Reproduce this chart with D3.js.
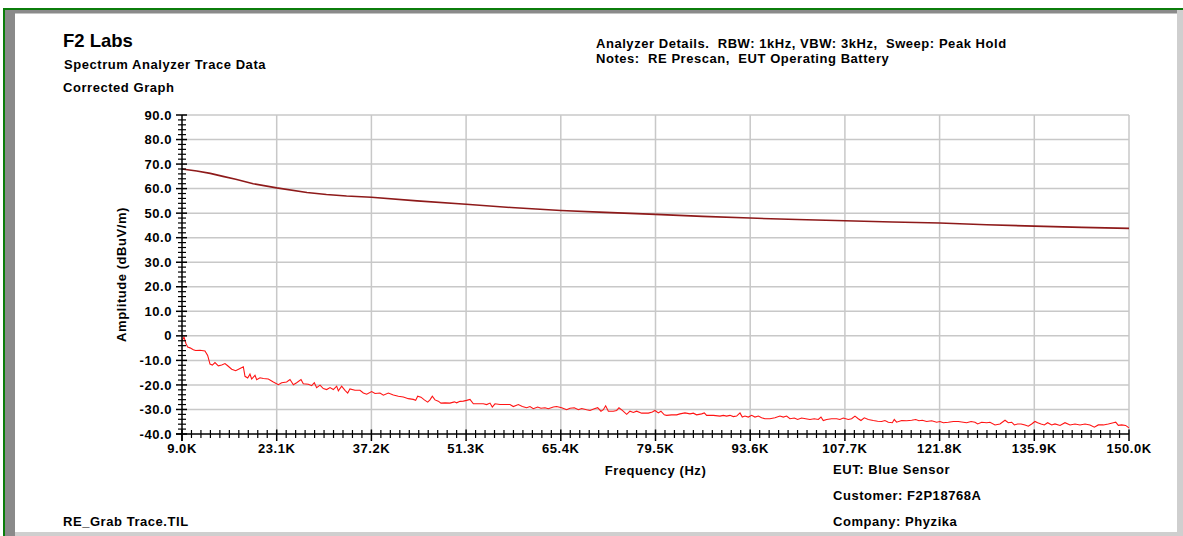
<!DOCTYPE html>
<html>
<head>
<meta charset="utf-8">
<script src="https://cdn.jsdelivr.net/npm/d3@7"></script>
<style>
  html, body { margin: 0; padding: 0; background: #ffffff; }
  svg { display: block; }
  text { font-family: "Liberation Sans", Arial, sans-serif; font-weight: bold; fill: #000; white-space: pre; }
</style>
</head>
<body>
<svg id="chart" width="1183" height="536"></svg>
<script>
// Limit line (dBuV/m) versus frequency (kHz)
const limitFreqKHz = [9.0, 11.2, 13.2, 15.1, 17.0, 19.6, 23.1, 27.6, 30.5, 33.5, 37.2, 44.0, 51.3, 58.0, 65.4, 72.0, 79.5, 86.5, 93.6, 100.6, 107.7, 114.8, 121.8, 128.8, 135.9, 143.0, 150.0];
const limitAmplitude = [68.0, 67.2, 66.2, 65.0, 63.8, 62.0, 60.3, 58.4, 57.6, 57.0, 56.5, 55.0, 53.6, 52.3, 51.1, 50.3, 49.5, 48.7, 48.0, 47.4, 46.9, 46.4, 46.0, 45.3, 44.7, 44.2, 43.8];

// Measured peak-hold trace (corrected), frequency in kHz
const traceFreqKHz = [
  9.00, 9.30, 9.60, 9.85, 10.19, 10.69, 11.03, 11.68, 12.42, 12.82, 13.17, 13.52, 13.91, 14.41, 14.91, 15.40, 15.80, 16.40, 16.99, 17.64,
  18.13, 18.38, 18.78, 19.12, 19.37, 19.87, 20.12, 20.61, 21.11, 21.85, 22.60, 23.34, 23.84, 24.58, 25.08, 25.58, 26.07, 26.72, 27.06, 27.81,
  28.31, 28.70, 29.05, 29.55, 30.04, 30.54, 31.04, 31.53, 32.03, 32.28, 32.77, 33.27, 33.67, 34.01, 34.76, 35.50, 36.00, 36.50, 37.24, 37.74,
  38.48, 38.98, 39.72, 40.47, 41.21, 41.96, 42.70, 43.44, 43.79, 44.09, 44.58, 45.08, 45.58, 45.92, 46.27, 46.67, 47.16, 47.56, 48.16, 48.90,
  49.55, 49.89, 50.39, 50.89, 51.38, 51.88, 52.38, 53.12, 53.86, 54.36, 54.86, 55.20, 55.60, 56.35, 57.09, 57.83, 58.33, 59.08, 59.67, 60.32,
  60.81, 61.31, 61.95, 62.45, 63.05, 63.54, 64.29, 64.78, 65.53, 66.27, 66.77, 67.41, 68.01, 68.51, 69.25, 69.75, 70.39, 70.89, 71.38, 71.73,
  72.08, 72.48, 73.22, 73.72, 74.06, 74.56, 75.21, 75.70, 76.20, 76.69, 77.44, 78.43, 79.03, 79.42, 79.92, 80.31, 80.81, 81.16, 81.90, 82.65,
  83.14, 83.89, 84.63, 85.13, 85.62, 86.37, 86.77, 87.11, 88.11, 89.10, 89.59, 90.09, 90.59, 91.08, 91.58, 92.08, 92.42, 92.82, 93.32, 93.81,
  94.31, 94.81, 95.30, 95.80, 96.54, 97.29, 98.03, 98.53, 99.02, 99.52, 100.17, 100.66, 101.26, 101.85, 102.50, 103.14, 103.74, 104.14, 104.48, 104.98,
  105.72, 106.47, 106.96, 107.46, 108.21, 108.70, 109.20, 109.69, 110.09, 110.59, 111.18, 111.93, 112.57, 113.17, 113.66, 114.16, 114.76, 115.05, 115.40, 116.15,
  116.90, 117.64, 118.24, 118.73, 119.23, 119.87, 120.62, 121.36, 121.86, 122.36, 123.10, 123.85, 124.59, 125.33, 125.83, 126.48, 127.07, 127.47, 128.06, 128.81,
  129.30, 130.05, 130.79, 131.54, 132.03, 132.53, 132.93, 133.42, 133.92, 134.52, 135.01, 135.51, 136.00, 136.40, 136.90, 137.39, 137.89, 138.49, 138.98, 139.73,
  140.47, 141.22, 141.96, 142.70, 143.45, 144.19, 144.84, 145.43, 146.18, 146.92, 147.67, 148.02, 148.41, 148.91, 149.50, 150.00
];
const traceAmplitude = [
  -2.0, -0.5, -3.2, -4.6, -4.9, -5.7, -6.0, -5.9, -6.2, -8.0, -11.5, -11.9, -10.9, -12.2, -11.9, -11.3, -12.2, -13.6, -14.2, -13.3,
  -12.6, -16.5, -17.2, -15.6, -17.6, -16.1, -17.9, -17.1, -17.4, -17.6, -18.8, -19.9, -19.1, -18.8, -17.8, -19.9, -19.1, -17.8, -19.5, -19.7,
  -20.3, -19.1, -21.1, -20.1, -21.5, -21.9, -21.1, -21.9, -20.5, -22.4, -20.5, -22.2, -23.3, -21.6, -22.2, -22.2, -23.3, -23.8, -22.7, -23.5,
  -23.3, -24.2, -23.3, -24.1, -24.6, -24.9, -25.6, -25.9, -26.3, -24.6, -25.0, -26.1, -27.0, -26.1, -24.6, -26.1, -26.6, -27.4, -27.3, -27.4,
  -26.9, -27.3, -26.7, -26.6, -26.3, -25.9, -27.7, -27.7, -27.7, -28.0, -27.4, -29.0, -27.7, -28.0, -28.0, -28.0, -28.8, -28.0, -28.8, -29.3,
  -28.8, -29.7, -29.0, -29.5, -29.3, -29.7, -29.0, -28.8, -29.3, -30.1, -29.5, -29.3, -30.1, -29.6, -30.1, -30.4, -29.7, -29.3, -30.7, -30.1,
  -28.5, -30.7, -30.7, -30.4, -29.3, -30.4, -32.0, -30.7, -31.2, -30.7, -31.5, -31.5, -31.0, -30.4, -31.4, -30.7, -32.2, -32.4, -32.2, -32.2,
  -31.8, -31.4, -31.8, -31.5, -32.2, -31.8, -31.4, -32.4, -32.4, -32.7, -32.4, -32.7, -32.4, -32.9, -32.7, -31.4, -33.1, -32.7, -33.1, -32.4,
  -33.1, -32.7, -33.4, -33.8, -33.8, -33.4, -32.7, -33.1, -32.7, -33.8, -33.5, -34.1, -33.5, -33.8, -34.1, -33.8, -34.1, -33.1, -34.5, -34.1,
  -33.8, -33.8, -34.1, -33.5, -34.1, -33.8, -32.7, -33.8, -34.5, -33.4, -34.1, -34.5, -34.8, -34.9, -34.5, -35.2, -35.4, -34.1, -35.2, -34.5,
  -34.6, -34.4, -34.1, -34.6, -34.4, -34.9, -34.6, -35.2, -34.9, -35.4, -35.2, -34.9, -34.9, -35.2, -35.4, -34.9, -35.2, -35.9, -35.2, -35.4,
  -35.2, -36.3, -35.9, -34.4, -35.4, -35.2, -36.3, -35.9, -35.9, -36.3, -36.8, -35.9, -34.9, -35.4, -35.9, -36.3, -35.4, -36.3, -35.9, -36.5,
  -35.4, -36.3, -35.9, -36.3, -35.9, -36.3, -37.2, -36.3, -36.3, -35.9, -35.4, -35.2, -36.5, -36.3, -36.5, -37.5
];

// Axis ticks
const xTickValues = [9.0, 23.1, 37.2, 51.3, 65.4, 79.5, 93.6, 107.7, 121.8, 135.9, 150.0];
const xTickLabels = ["9.0K", "23.1K", "37.2K", "51.3K", "65.4K", "79.5K", "93.6K", "107.7K", "121.8K", "135.9K", "150.0K"];
const yTickValues = [90, 80, 70, 60, 50, 40, 30, 20, 10, 0, -10, -20, -30, -40];
const yTickLabels = ["90.0", "80.0", "70.0", "60.0", "50.0", "40.0", "30.0", "20.0", "10.0", "0", "-10.0", "-20.0", "-30.0", "-40.0"];

// Header and footer text
const headerLeft = ["F2 Labs", "Spectrum Analyzer Trace Data", "Corrected Graph"];
const headerRight = ["Analyzer Details.  RBW: 1kHz, VBW: 3kHz,  Sweep: Peak Hold", "Notes:  RE Prescan,  EUT Operating Battery"];
const footerRight = ["EUT: Blue Sensor", "Customer: F2P18768A", "Company: Phyzika"];
const footerLeft = "RE_Grab Trace.TIL";

const svg = d3.select("#chart");
const W = 1183, H = 536;

// Window frame
svg.append("rect").attr("x", 0).attr("y", 0).attr("width", W).attr("height", H).attr("fill", "#ffffff");
svg.append("rect").attr("x", 3).attr("y", 8).attr("width", W - 3).attr("height", 2).attr("fill", "#0b7d0b");
svg.append("rect").attr("x", 3).attr("y", 8).attr("width", 2).attr("height", H - 8).attr("fill", "#0b7d0b");
svg.append("rect").attr("x", 5).attr("y", 10).attr("width", W - 11).attr("height", 3.5).attr("fill", "#8a8a8a");
svg.append("rect").attr("x", 5).attr("y", 10).attr("width", 10).attr("height", H - 10).attr("fill", "#8a8a8a");
svg.append("rect").attr("x", 1177).attr("y", 10).attr("width", 6).attr("height", H - 10).attr("fill", "#cfcfcf");
svg.append("rect").attr("x", 15).attr("y", 532).attr("width", W - 15).attr("height", 4).attr("fill", "#cfcfcf");

const font = { size: 13, spacing: 0.55 };
function label(g, x, y, str, anchor, size) {
  return g.append("text")
    .attr("x", x).attr("y", y)
    .attr("text-anchor", anchor || "start")
    .style("font-size", (size || font.size) + "px")
    .style("letter-spacing", font.spacing + "px")
    .text(str);
}

// Titles
label(svg, 63, 47, headerLeft[0], "start", 18.5).style("letter-spacing", "0px");
label(svg, 64, 69, headerLeft[1]);
label(svg, 63, 91.5, headerLeft[2]);
label(svg, 596, 48, headerRight[0]);
label(svg, 596, 62.5, headerRight[1]);
label(svg, 833, 473.5, footerRight[0]);
label(svg, 833, 499.5, footerRight[1]);
label(svg, 833, 525.5, footerRight[2]);
label(svg, 63, 526, footerLeft);

// Scales
const x = d3.scaleLinear().domain([9, 150]).range([182, 1129]);
const y = d3.scaleLinear().domain([-40, 90]).range([434, 115]);
const [x0, x1] = x.range();
const [y0, y1] = y.range();

// Grid
const grid = svg.append("g").attr("stroke", "#c8c8c8").attr("stroke-width", 1.5);
grid.selectAll("line.v").data(xTickValues.slice(1)).join("line")
  .attr("class", "v")
  .attr("x1", d => x(d)).attr("x2", d => x(d))
  .attr("y1", y1).attr("y2", y0);
grid.selectAll("line.h").data(yTickValues.filter(v => v !== -40)).join("line")
  .attr("class", "h")
  .attr("x1", x0).attr("x2", x1)
  .attr("y1", d => y(d)).attr("y2", d => y(d));

// Traces
const limitData = limitFreqKHz.map((f, i) => [f, limitAmplitude[i]]);
const traceData = traceFreqKHz.map((f, i) => [f, traceAmplitude[i]]);
const line = d3.line().x(d => x(d[0])).y(d => y(d[1]));

svg.append("path").datum(limitData)
  .attr("d", line).attr("fill", "none")
  .attr("stroke", "#8e1a1a").attr("stroke-width", 1.6);
svg.append("path").datum(traceData)
  .attr("d", line).attr("fill", "none")
  .attr("stroke", "#ff1414").attr("stroke-width", 1.1);

// Axes
const axes = svg.append("g").attr("stroke", "#000").attr("stroke-width", 1.5);
axes.append("line").attr("x1", x0).attr("x2", x0).attr("y1", y1).attr("y2", y0 + 7);
axes.append("line").attr("x1", x0 - 6).attr("x2", x1).attr("y1", y0).attr("y2", y0);

// y ticks: minor every 2 units, major every 10
const yMinor = d3.range(-40, 90.001, 2).filter(v => v % 10 !== 0);
axes.selectAll("line.ym").data(yMinor).join("line")
  .attr("class", "ym").attr("stroke-width", 1.2)
  .attr("x1", x0 - 4).attr("x2", x0 + 4)
  .attr("y1", d => y(d)).attr("y2", d => y(d));
axes.selectAll("line.yM").data(yTickValues).join("line")
  .attr("class", "yM")
  .attr("x1", x0 - 6).attr("x2", x0 + 5)
  .attr("y1", d => y(d)).attr("y2", d => y(d));

// x ticks: ten minor steps between majors
const xStep = (xTickValues[1] - xTickValues[0]) / 10;
const xMinor = d3.range(0, 101).map(i => 9 + i * xStep).filter((v, i) => i % 10 !== 0);
axes.selectAll("line.xm").data(xMinor).join("line")
  .attr("class", "xm").attr("stroke-width", 1.2)
  .attr("x1", d => x(d)).attr("x2", d => x(d))
  .attr("y1", y0 - 4).attr("y2", y0 + 4);
axes.selectAll("line.xM").data(xTickValues).join("line")
  .attr("class", "xM")
  .attr("x1", d => x(d)).attr("x2", d => x(d))
  .attr("y1", y0 - 4.5).attr("y2", y0 + 7);

// Tick labels
const ylab = svg.append("g");
yTickValues.forEach((v, i) => label(ylab, 172, y(v) + 4.6, yTickLabels[i], "end"));
const xlab = svg.append("g");
xTickValues.forEach((v, i) => label(xlab, x(v), 452.5, xTickLabels[i], "middle"));

// Axis titles
label(svg, (x0 + x1) / 2, 475, "Frequency (Hz)", "middle");
label(svg, 0, 0, "Amplitude (dBuV/m)", "middle")
  .attr("transform", `translate(126,${(y0 + y1) / 2}) rotate(-90)`);
</script>
</body>
</html>
